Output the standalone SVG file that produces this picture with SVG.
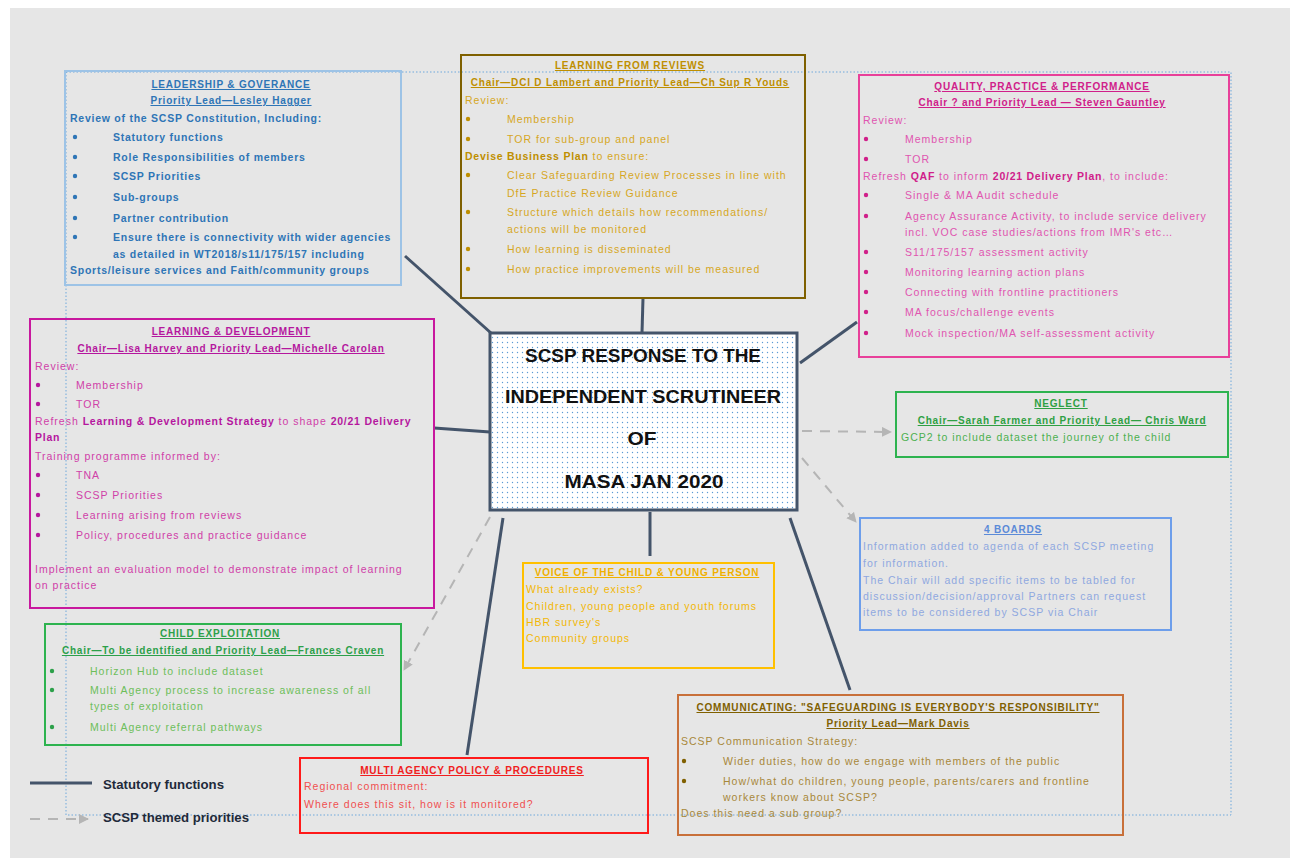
<svg xmlns="http://www.w3.org/2000/svg" width="1293" height="862" viewBox="0 0 1293 862">
<style>
text{font-family:"Liberation Sans",Arial,sans-serif;font-size:10.5px;letter-spacing:1px}
.b{font-weight:bold;letter-spacing:0.75px}
.h{font-weight:bold;text-decoration:underline;text-anchor:middle;letter-spacing:0.8px;font-size:10px}
.box{fill:none;stroke-width:2}
.conn{stroke:#44546a;stroke-width:3;fill:none}
.dash{stroke:#b5b5b5;stroke-width:2;stroke-dasharray:10 8;fill:none}
.ct{font-size:18px;font-weight:bold;fill:#111;text-anchor:middle;letter-spacing:0}
.lg{font-size:12px;font-weight:bold;fill:#1f2a3a;letter-spacing:0}
</style>
<defs>
<pattern id="dots" width="5" height="5" patternUnits="userSpaceOnUse">
<circle cx="2.5" cy="2.5" r="0.7" fill="#5b9bd5"/>
</pattern>
<marker id="arr" viewBox="0 0 10 10" refX="9" refY="5" markerWidth="5" markerHeight="5" orient="auto">
<path d="M0,0 L10,5 L0,10 z" fill="#b5b5b5"/>
</marker>
</defs>
<rect x="0" y="0" width="1293" height="862" fill="#ffffff"/>
<rect x="10" y="8" width="1280" height="850" fill="#e6e6e6"/>
<rect x="66" y="72" width="1165" height="743" fill="none" stroke="#6fa8dc" stroke-width="1" stroke-dasharray="1.5 2"/>

<g id="connectors">
<line class="conn" x1="405" y1="256" x2="491" y2="333"/>
<line class="conn" x1="643" y1="298" x2="642" y2="333"/>
<line class="conn" x1="857" y1="322" x2="800" y2="363"/>
<line class="conn" x1="434" y1="428" x2="490" y2="432"/>
<line class="conn" x1="650" y1="512" x2="650" y2="556"/>
<line class="conn" x1="503" y1="518" x2="467" y2="755"/>
<line class="conn" x1="790" y1="518" x2="850" y2="690"/>
<line class="dash" x1="802" y1="431" x2="891" y2="432" marker-end="url(#arr)"/>
<line class="dash" x1="802" y1="458" x2="856" y2="522" marker-end="url(#arr)"/>
<line class="dash" x1="490" y1="517" x2="404" y2="670" marker-end="url(#arr)"/>
</g>

<g id="center">
<rect x="490" y="333" width="307" height="177" fill="#ffffff"/>
<rect x="490" y="333" width="307" height="177" fill="url(#dots)" stroke="#44546a" stroke-width="3"/>
<text class="ct" x="643" y="362" textLength="236" lengthAdjust="spacingAndGlyphs">SCSP RESPONSE TO THE</text>
<text class="ct" x="643" y="403" textLength="276" lengthAdjust="spacingAndGlyphs">INDEPENDENT SCRUTINEER</text>
<text class="ct" x="642" y="445" textLength="29" lengthAdjust="spacingAndGlyphs">OF</text>
<text class="ct" x="644" y="488" textLength="159" lengthAdjust="spacingAndGlyphs">MASA JAN 2020</text>
</g>

<g id="leadership" fill="#2e75b6">
<rect class="box" x="65" y="71" width="336" height="214" stroke="#9dc3e6" stroke-width="1.5"/>
<text class="h" x="231" y="88">LEADERSHIP &amp; GOVERANCE</text>
<text class="h" x="231" y="104">Priority Lead—Lesley Hagger</text>
<text class="b" x="70" y="122">Review of the SCSP Constitution, Including:</text>
<circle cx="75" cy="137" r="2.2"/><text class="b" x="113" y="141">Statutory functions</text>
<circle cx="75" cy="157" r="2.2"/><text class="b" x="113" y="161">Role Responsibilities of members</text>
<circle cx="75" cy="176" r="2.2"/><text class="b" x="113" y="180">SCSP Priorities</text>
<circle cx="75" cy="197" r="2.2"/><text class="b" x="113" y="201">Sub-groups</text>
<circle cx="75" cy="218" r="2.2"/><text class="b" x="113" y="222">Partner contribution</text>
<circle cx="75" cy="237" r="2.2"/><text class="b" x="113" y="241">Ensure there is connectivity with wider agencies</text>
<text class="b" x="113" y="258">as detailed in WT2018/s11/175/157 including</text>
<text class="b" x="70" y="274">Sports/leisure services and Faith/community groups</text>
</g>

<g id="learning-from-reviews" fill="#d6a61e">
<rect class="box" x="461" y="55" width="344" height="243" stroke="#7f6000"/>
<text class="h" x="630" y="69" fill="#bf8f00">LEARNING FROM REVIEWS</text>
<text class="h" x="630" y="86" fill="#bf8f00">Chair—DCI D Lambert and Priority Lead—Ch Sup R Youds</text>
<text x="465" y="104">Review:</text>
<circle cx="468" cy="119" r="2.2" fill="#bf8f00"/><text x="507" y="123">Membership</text>
<circle cx="468" cy="139" r="2.2" fill="#bf8f00"/><text x="507" y="143">TOR for sub-group and panel</text>
<text x="465" y="160"><tspan class="b" fill="#bf8f00">Devise Business Plan</tspan> to ensure:</text>
<circle cx="468" cy="175" r="2.2" fill="#bf8f00"/><text x="507" y="179">Clear Safeguarding Review Processes in line with</text>
<text x="507" y="197">DfE Practice Review Guidance</text>
<circle cx="468" cy="212" r="2.2" fill="#bf8f00"/><text x="507" y="216">Structure which details how recommendations/</text>
<text x="507" y="233">actions will be monitored</text>
<circle cx="468" cy="249" r="2.2" fill="#bf8f00"/><text x="507" y="253">How learning is disseminated</text>
<circle cx="468" cy="269" r="2.2" fill="#bf8f00"/><text x="507" y="273">How practice improvements will be measured</text>
</g>

<g id="quality" fill="#e055b0">
<rect class="box" x="859" y="75" width="370" height="282" stroke="#e8409a"/>
<text class="h" x="1042" y="90" fill="#d0208a">QUALITY, PRACTICE &amp; PERFORMANCE</text>
<text class="h" x="1042" y="106" fill="#d0208a">Chair ? and Priority Lead — Steven Gauntley</text>
<text x="863" y="124">Review:</text>
<circle cx="866" cy="139" r="2.2" fill="#d0208a"/><text x="905" y="143">Membership</text>
<circle cx="866" cy="159" r="2.2" fill="#d0208a"/><text x="905" y="163">TOR</text>
<text x="863" y="180">Refresh <tspan class="b" fill="#d0208a">QAF</tspan> to inform <tspan class="b" fill="#d0208a">20/21 Delivery Plan</tspan>, to include:</text>
<circle cx="866" cy="195" r="2.2" fill="#d0208a"/><text x="905" y="199">Single &amp; MA Audit schedule</text>
<circle cx="866" cy="216" r="2.2" fill="#d0208a"/><text x="905" y="220">Agency Assurance Activity, to include service delivery</text>
<text x="905" y="236">incl.  VOC case studies/actions from IMR's etc…</text>
<circle cx="866" cy="252" r="2.2" fill="#d0208a"/><text x="905" y="256">S11/175/157 assessment activity</text>
<circle cx="866" cy="272" r="2.2" fill="#d0208a"/><text x="905" y="276">Monitoring learning action plans</text>
<circle cx="866" cy="292" r="2.2" fill="#d0208a"/><text x="905" y="296">Connecting with frontline practitioners</text>
<circle cx="866" cy="312" r="2.2" fill="#d0208a"/><text x="905" y="316">MA focus/challenge events</text>
<circle cx="866" cy="333" r="2.2" fill="#d0208a"/><text x="905" y="337">Mock inspection/MA self-assessment activity</text>
</g>

<g id="learning-development" fill="#d040a8">
<rect class="box" x="30" y="319" width="404" height="289" stroke="#c8189e"/>
<text class="h" x="231" y="335" fill="#b5179e">LEARNING &amp; DEVELOPMENT</text>
<text class="h" x="231" y="352" fill="#b5179e">Chair—Lisa Harvey and Priority Lead—Michelle Carolan</text>
<text x="35" y="370">Review:</text>
<circle cx="38" cy="385" r="2.2" fill="#b5179e"/><text x="76" y="389">Membership</text>
<circle cx="38" cy="404" r="2.2" fill="#b5179e"/><text x="76" y="408">TOR</text>
<text x="35" y="425">Refresh <tspan class="b" fill="#b5179e">Learning &amp; Development Strategy</tspan> to shape <tspan class="b" fill="#b5179e">20/21 Delivery</tspan></text>
<text class="b" x="35" y="441" fill="#b5179e">Plan</text>
<text x="35" y="460">Training programme informed by:</text>
<circle cx="38" cy="475" r="2.2" fill="#b5179e"/><text x="76" y="479">TNA</text>
<circle cx="38" cy="495" r="2.2" fill="#b5179e"/><text x="76" y="499">SCSP Priorities</text>
<circle cx="38" cy="515" r="2.2" fill="#b5179e"/><text x="76" y="519">Learning arising from reviews</text>
<circle cx="38" cy="535" r="2.2" fill="#b5179e"/><text x="76" y="539">Policy,  procedures and practice guidance</text>
<text x="35" y="573">Implement an evaluation model to demonstrate impact of learning</text>
<text x="35" y="589">on practice</text>
</g>

<g id="neglect" fill="#4cb050">
<rect class="box" x="896" y="392" width="332" height="65" stroke="#2db34f"/>
<text class="h" x="1061" y="407" fill="#2ea043">NEGLECT</text>
<text class="h" x="1062" y="424" fill="#2ea043">Chair—Sarah Farmer and Priority Lead— Chris Ward</text>
<text x="901" y="441">GCP2 to include dataset the journey of the child</text>
</g>

<g id="four-boards" fill="#8fa8e0">
<rect class="box" x="860" y="518" width="311" height="112" stroke="#6d9eeb" stroke-width="1.5"/>
<text class="h" x="1013" y="533" fill="#5b8ad8">4 BOARDS</text>
<text x="863" y="550">Information added to agenda of each SCSP meeting</text>
<text x="863" y="567">for information.</text>
<text x="863" y="584">The Chair will add specific items to be tabled for</text>
<text x="863" y="600">discussion/decision/approval Partners can request</text>
<text x="863" y="616">items to be considered by SCSP via Chair</text>
</g>

<g id="child-exploitation" fill="#6dbe5a">
<rect class="box" x="45" y="624" width="356" height="121" stroke="#2db34f"/>
<text class="h" x="220" y="637" fill="#2ca04a">CHILD EXPLOITATION</text>
<text class="h" x="223" y="654" fill="#2ca04a">Chair—To be identified and Priority Lead—Frances Craven</text>
<circle cx="52" cy="671" r="2.2" fill="#2ca04a"/><text x="90" y="675">Horizon Hub to include dataset</text>
<circle cx="52" cy="690" r="2.2" fill="#2ca04a"/><text x="90" y="694">Multi Agency process to increase awareness of all</text>
<text x="90" y="710">types of exploitation</text>
<circle cx="52" cy="727" r="2.2" fill="#2ca04a"/><text x="90" y="731">Multi Agency referral pathways</text>
</g>

<g id="voice-of-child" fill="#f2b705">
<rect class="box" x="523" y="563" width="251" height="105" stroke="#ffc000"/>
<text class="h" x="647" y="576" fill="#f0b000">VOICE OF THE CHILD &amp; YOUNG PERSON</text>
<text x="526" y="593">What already exists?</text>
<text x="526" y="610">Children, young people  and youth forums</text>
<text x="526" y="626">HBR survey's</text>
<text x="526" y="642">Community groups</text>
</g>

<g id="communicating" fill="#a8883a">
<rect class="box" x="678" y="695" width="445" height="140" stroke="#c8703a"/>
<text class="h" x="898" y="711" fill="#806000">COMMUNICATING: "SAFEGUARDING IS EVERYBODY'S RESPONSIBILITY"</text>
<text class="h" x="898" y="727" fill="#806000">Priority Lead—Mark Davis</text>
<text x="681" y="745">SCSP Communication Strategy:</text>
<circle cx="684" cy="761" r="2.2" fill="#806000"/><text x="723" y="765">Wider duties, how do we engage with members of the public</text>
<circle cx="684" cy="781" r="2.2" fill="#806000"/><text x="723" y="785">How/what do children, young people,  parents/carers and frontline</text>
<text x="723" y="801">workers know about SCSP?</text>
<text x="681" y="817">Does this need a sub group?</text>
</g>

<g id="multi-agency" fill="#f05050">
<rect class="box" x="300" y="758" width="348" height="75" stroke="#ff1a1a"/>
<text class="h" x="472" y="774" fill="#f02020">MULTI AGENCY POLICY &amp; PROCEDURES</text>
<text x="304" y="790">Regional commitment:</text>
<text x="304" y="808">Where does this sit, how is it monitored?</text>
</g>

<g id="legend">
<line class="conn" x1="30" y1="783" x2="92" y2="783"/>
<text class="lg" x="103" y="789" textLength="121" lengthAdjust="spacingAndGlyphs">Statutory functions</text>
<line class="dash" x1="30" y1="819" x2="88" y2="819" marker-end="url(#arr)"/>
<text class="lg" x="103" y="822" textLength="146" lengthAdjust="spacingAndGlyphs">SCSP themed priorities</text>
</g>
</svg>
